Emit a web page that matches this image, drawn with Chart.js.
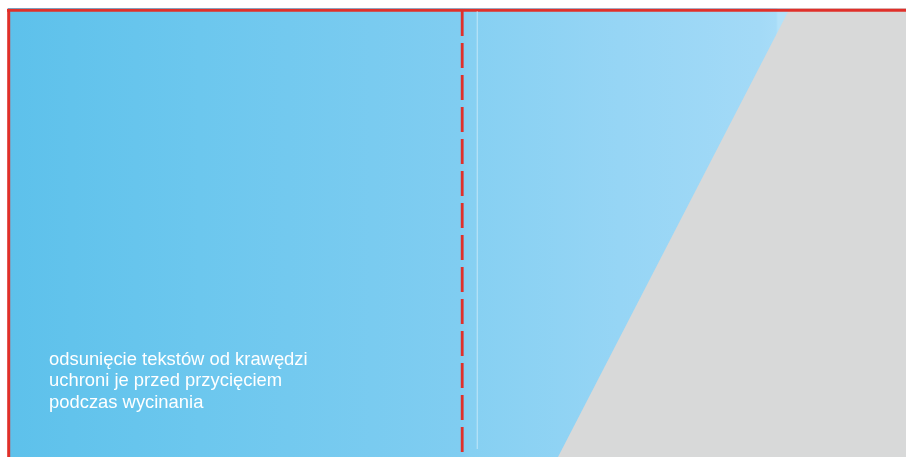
<!DOCTYPE html>
<html>
<head>
<meta charset="utf-8">
<script src="https://cdn.jsdelivr.net/npm/chart.js@4"></script>
<style>
html,body{margin:0;padding:0;background:#ffffff;}
canvas{display:block;}
</style>
</head>
<body>
<canvas id="c" width="906" height="457"></canvas>
<script>
// ---- data (page coordinates) ----
const pageArea   = [[8, 8], [906, 8]];                 // blue printed area (filled down to bottom)
const grayArea   = [[558, 457], [790, 8], [906, 8]];   // gray wedge (filled down to bottom)
const cutTop     = [[7, 10.3], [906, 10.3]];           // red trim line, top
const cutLeft    = [[8.7, 9], [8.7, 457]];             // red trim line, left
const foldLine   = [[462.2, 11], [462.2, 457]];        // dashed red fold line
const seamLine   = [[477.3, 11], [477.3, 449]];        // thin light seam
const captionLines = ['odsunięcie tekstów od krawędzi', 'uchroni je przed przycięciem', 'podczas wycinania'];
const captionAnchor = [[49, 364.5], [49, 386], [49, 407.5]];

const toPts = a => a.map(p => ({x: p[0], y: p[1]}));

function blueGradient(context) {
  const chart = context.chart;
  const area = chart.chartArea;
  if (!area) return '#7FCDF1';
  const xs = chart.scales.x;
  const x0 = xs.getPixelForValue(8), x1 = xs.getPixelForValue(906);
  const g = chart.ctx.createLinearGradient(x0, 0, x1, 0);
  const f = v => (xs.getPixelForValue(v) - x0) / (x1 - x0);
  g.addColorStop(0, '#5DC1EB');
  g.addColorStop(f(200), '#6CC7EE');
  g.addColorStop(f(460), '#80CDF1');
  g.addColorStop(f(470), '#86D0F2');
  g.addColorStop(f(620), '#96D5F5');
  g.addColorStop(f(760), '#A3DAF7');
  g.addColorStop(f(776), '#A7DCF8');
  g.addColorStop(f(778), '#B4E2F9');
  g.addColorStop(1, '#B4E2F9');
  return g;
}

const captionPlugin = {
  id: 'caption',
  afterDatasetsDraw(chart) {
    const ctx = chart.ctx;
    const xs = chart.scales.x, ys = chart.scales.y;
    ctx.save();
    ctx.fillStyle = '#ffffff';
    ctx.font = '18.4px "Liberation Sans", Arial, sans-serif';
    ctx.textBaseline = 'alphabetic';
    ctx.textAlign = 'left';
    captionLines.forEach((t, i) => {
      ctx.fillText(t, xs.getPixelForValue(captionAnchor[i][0]), ys.getPixelForValue(captionAnchor[i][1]));
    });
    ctx.restore();
  }
};

const lineDs = (pts, color, width, extra) => Object.assign({
  data: toPts(pts), showLine: true, borderColor: color, borderWidth: width,
  pointRadius: 0, fill: false, tension: 0, borderCapStyle: 'butt', clip: false
}, extra || {});

new Chart(document.getElementById('c'), {
  type: 'scatter',
  data: {
    datasets: [
      lineDs(foldLine, '#E0302A', 2.8, {borderDash: [25, 7], order: 1}),
      lineDs(seamLine, 'rgba(255,255,255,0.38)', 1.3, {order: 2}),
      lineDs(cutTop, '#E0302A', 3, {order: 3}),
      lineDs(cutLeft, '#E0302A', 3, {order: 4}),
      lineDs(grayArea, 'rgba(0,0,0,0)', 0, {fill: {value: 457}, backgroundColor: '#D8D9D9', order: 5}),
      lineDs(pageArea, 'rgba(0,0,0,0)', 0, {fill: {value: 457}, backgroundColor: blueGradient, order: 6})
    ]
  },
  options: {
    responsive: false,
    devicePixelRatio: 1,
    animation: false,
    events: [],
    layout: {padding: 0},
    plugins: {legend: {display: false}, tooltip: {enabled: false}, title: {display: false}},
    scales: {
      x: {type: 'linear', min: 0, max: 906, display: false},
      y: {type: 'linear', min: 0, max: 457, reverse: true, display: false}
    }
  },
  plugins: [captionPlugin]
});
</script>
</body>
</html>
